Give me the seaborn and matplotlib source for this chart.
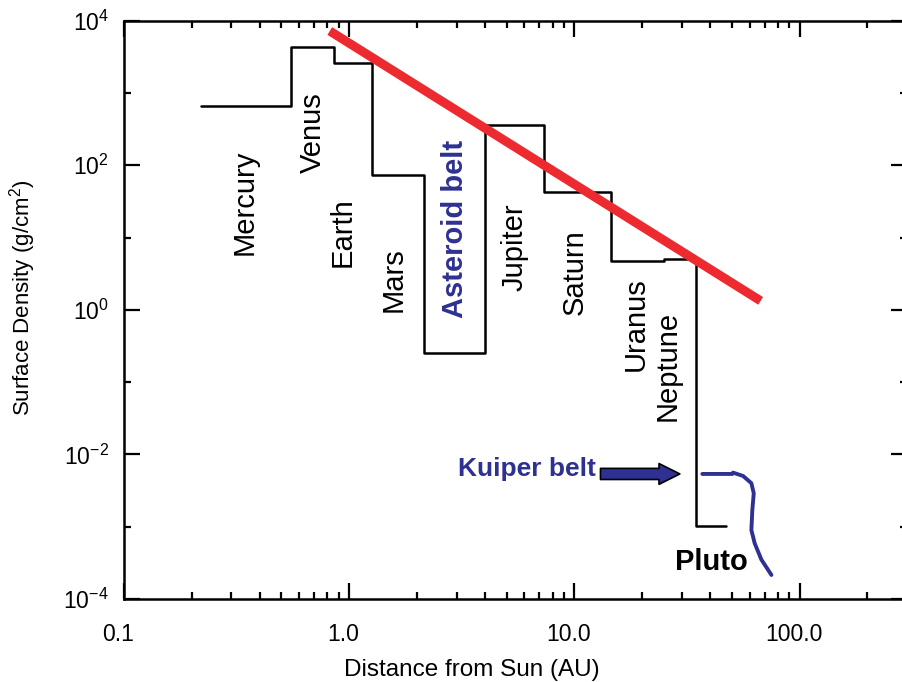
import matplotlib
matplotlib.use("Agg")
import matplotlib.pyplot as plt
import matplotlib.transforms as mtransforms
import numpy as np
import pandas as pd
import seaborn as sns
from matplotlib.ticker import FixedLocator, FixedFormatter, LogLocator, NullFormatter

# Surface density of the solar nebula, smeared over each planet's feeding zone
zone_edges_au = [0.22, 0.55, 0.855, 1.26, 2.15, 4.03, 7.34, 14.5, 25.0, 34.8, 47.0]
zone_density = [660, 4290, 2570, 72.8, 0.256, 357, 43.2, 4.75, 5.0, 1.03e-3, 1.03e-3]

# Power-law fit (minimum-mass nebula)
fit_r_au = [0.82, 67.2]
fit_density = [7200, 1.33]

# Kuiper belt profile
kuiper_r_au = [37.0, 50.3, 50.6, 56.1, 61.1, 62.6, 61.7, 61.1, 63.2, 67.7, 75.0]
kuiper_density = [5.37e-3, 5.37e-3, 5.6e-3, 5.04e-3, 4.0e-3, 2.9e-3, 1.71e-3,
                  9.0e-4, 5.9e-4, 3.5e-4, 2.15e-4]

planet_names = ["Mercury", "Venus", "Earth", "Mars", "Jupiter", "Saturn", "Uranus", "Neptune"]
planet_label_r = [0.344, 0.69, 0.938, 1.58, 5.44, 10.04, 18.7, 26.0]
planet_label_sigma = [31, 280, 11.9, 2.6, 7.4, 3.34, 0.638, 0.168]

x_tick_values = [0.1, 1.0, 10.0, 100.0]
x_tick_labels = ["0.1", "1.0", "10.0", "100.0"]
y_tick_values = [1e-4, 1e-2, 1e0, 1e2, 1e4]
y_tick_labels = ["$10^{-4}$", "$10^{-2}$", "$10^{0}$", "$10^{2}$", "$10^{4}$"]
y_minor_values = [1e-3, 1e-1, 1e1, 1e3]

BLUE = "#2e3192"
RED = "#ec2a2f"

sns.set_theme(style="white")
plt.rcParams["font.family"] = ["Liberation Sans", "DejaVu Sans"]
plt.rcParams["mathtext.fontset"] = "custom"
plt.rcParams["mathtext.rm"] = "Liberation Sans"
plt.rcParams["mathtext.it"] = "Liberation Sans:italic"
plt.rcParams["mathtext.bf"] = "Liberation Sans:bold"

fig = plt.figure(figsize=(9.02, 6.82), dpi=100)
ax = fig.add_axes([124 / 902, (682 - 599) / 682, (907 - 124) / 902, (599 - 20.7) / 682])
ax.set_xscale("log")
ax.set_yscale("log")
ax.set_xlim(0.1, 300)
ax.set_ylim(1e-4, 1e4)

zones = pd.DataFrame({"r": zone_edges_au, "sigma": zone_density})
sns.lineplot(data=zones, x="r", y="sigma", drawstyle="steps-post", color="black",
             linewidth=1.8, estimator=None, sort=False, ax=ax)

fit = pd.DataFrame({"r": fit_r_au, "sigma": fit_density})
sns.lineplot(data=fit, x="r", y="sigma", color=RED, linewidth=6.5,
             solid_capstyle="butt", estimator=None, sort=False, ax=ax)

kuiper = pd.DataFrame({"r": kuiper_r_au, "sigma": kuiper_density})
sns.lineplot(data=kuiper, x="r", y="sigma", color=BLUE, linewidth=2.8,
             estimator=None, sort=False, ax=ax)

# Planet names along the steps
for name, r, s in zip(planet_names, planet_label_r, planet_label_sigma):
    ax.text(r, s, name, rotation=90, ha="center", va="center", fontsize=21, color="black")
ax.text(2.94, 13.1, "Asteroid belt", rotation=90, ha="center", va="center",
        fontsize=21, fontweight="bold", color=BLUE)
ax.text(40.7, 3.26e-4, "Pluto", ha="center", va="center", fontsize=21,
        fontweight="bold", color="black")
ax.text(12.45, 6.3e-3, "Kuiper belt", ha="right", va="center", fontsize=19,
        fontweight="bold", color=BLUE)
ax.annotate("", xy=(29.4, 5.37e-3), xytext=(13.06, 5.37e-3),
            arrowprops=dict(arrowstyle="simple,head_length=15,head_width=15,tail_width=8",
                            mutation_scale=1, fc=BLUE, ec="black", lw=1.2,
                            shrinkA=0, shrinkB=0))

# Axes styling
for spine in ax.spines.values():
    spine.set_color("black")
    spine.set_linewidth(1.8)
    spine.set_visible(True)
ax.grid(False)

ax.xaxis.set_major_locator(FixedLocator(x_tick_values))
ax.xaxis.set_major_formatter(FixedFormatter(x_tick_labels))
ax.xaxis.set_minor_locator(LogLocator(base=10, subs=np.arange(2, 10), numticks=20))
ax.xaxis.set_minor_formatter(NullFormatter())
ax.yaxis.set_major_locator(FixedLocator(y_tick_values))
ax.yaxis.set_major_formatter(FixedFormatter(y_tick_labels))
ax.yaxis.set_minor_locator(FixedLocator(y_minor_values))
ax.yaxis.set_minor_formatter(NullFormatter())

ax.tick_params(which="both", direction="in", top=True, right=True, bottom=True, left=True,
               color="black")
ax.tick_params(which="major", length=11.5, width=1.6, labelsize=16.5, labelcolor="black")
ax.tick_params(axis="x", which="major", pad=17)
ax.tick_params(axis="y", which="major", pad=11)
ax.tick_params(which="minor", length=5, width=1.6)

# x tick labels sit slightly left of their ticks
nudge = mtransforms.ScaledTranslation(-4 / 72, 0, fig.dpi_scale_trans)
for lbl in ax.get_xticklabels():
    lbl.set_transform(lbl.get_transform() + nudge)

ax.set_xlabel("Distance from Sun (AU)", fontsize=17.5, color="black", va="center")
ax.xaxis.set_label_coords(0.444, -0.123)
ax.set_ylabel("Surface Density (g/cm$^2$)", fontsize=16, color="black", va="center")
ax.yaxis.set_label_coords(-0.130, 0.52)

fig.savefig("out.png", dpi=100)
